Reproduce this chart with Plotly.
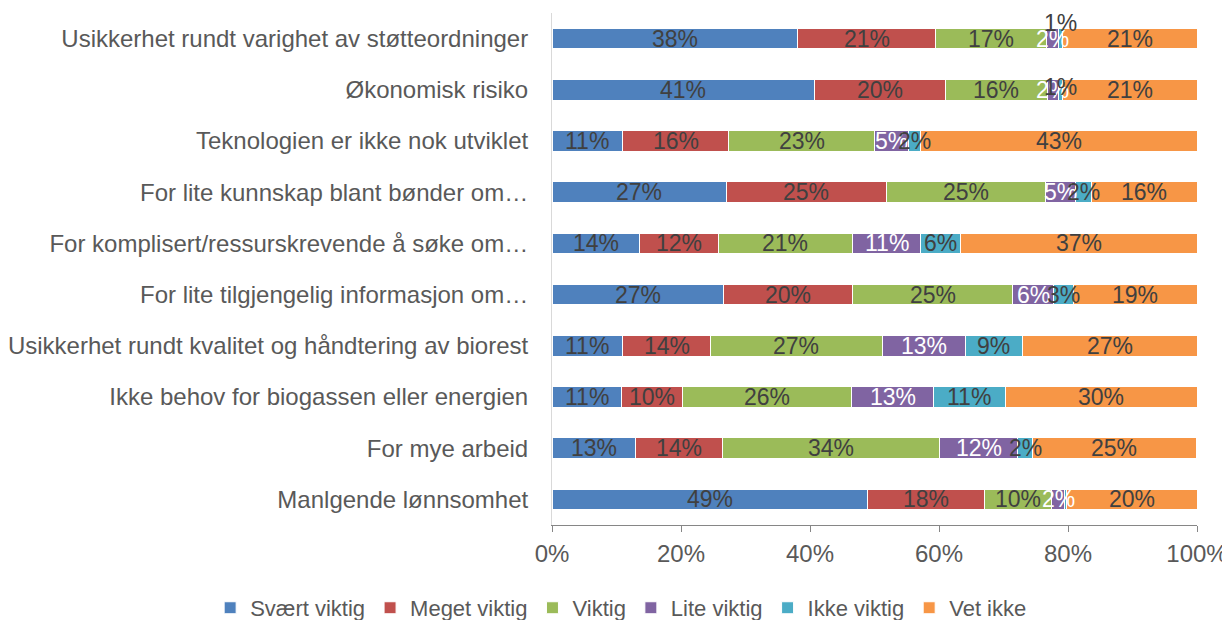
import plotly.graph_objects as go

categories = [
    "Usikkerhet rundt varighet av støtteordninger",
    "Økonomisk risiko",
    "Teknologien er ikke nok utviklet",
    "For lite kunnskap blant bønder om…",
    "For komplisert/ressurskrevende å søke om…",
    "For lite tilgjengelig informasjon om…",
    "Usikkerhet rundt kvalitet og håndtering av biorest",
    "Ikke behov for biogassen eller energien",
    "For mye arbeid",
    "Manlgende lønnsomhet",
]

series_names = ["Svært viktig", "Meget viktig", "Viktig", "Lite viktig", "Ikke viktig", "Vet ikke"]

svaert_viktig = [38.1, 40.7, 11.0, 27.0, 13.6, 26.6, 11.0, 10.7, 12.9, 48.9]
meget_viktig = [21.4, 20.3, 16.4, 24.8, 12.2, 20.0, 13.6, 9.6, 13.6, 18.1]
viktig = [17.2, 15.8, 22.6, 24.7, 20.8, 24.8, 26.6, 26.2, 33.6, 10.4]
lite_viktig = [1.8, 1.7, 5.3, 4.7, 10.6, 6.4, 12.9, 12.6, 12.1, 2.1]
ikke_viktig = [0.7, 0.6, 1.9, 2.5, 6.2, 3.1, 8.8, 11.2, 2.3, 0.2]
vet_ikke = [20.8, 20.9, 42.8, 16.3, 36.6, 19.1, 27.1, 29.7, 25.4, 20.3]

series_values = [svaert_viktig, meget_viktig, viktig, lite_viktig, ikke_viktig, vet_ikke]
colors = ["#4f81bd", "#c0504d", "#9bbb59", "#8064a2", "#4bacc6", "#f79646"]
label_colors = ["#404040", "#404040", "#404040", "#ffffff", "#404040", "#404040"]

FONT = "Liberation Sans, Arial, sans-serif"
FS = 24

fig = go.Figure()
for name, vals, col in zip(series_names, series_values, colors):
    fig.add_trace(go.Bar(
        y=categories, x=vals, name=name, orientation="h",
        marker=dict(color=col, line=dict(color="white", width=1)),
        hoverinfo="x+y+name",
    ))

# data labels as annotations at segment centers
for i, cat in enumerate(categories):
    cum = 0.0
    for s, vals in enumerate(series_values):
        v = vals[i]
        center = cum + v / 2
        cum += v
        lbl = round(v)
        if lbl <= 0:
            continue
        yshift = 0
        if s == 4 and i == 0:
            yshift = 16
        elif s == 4 and i == 1:
            yshift = 3
        fig.add_annotation(
            x=center, y=cat, xref="x", yref="y", text=f"{lbl}%",
            showarrow=False, yshift=yshift,
            font=dict(family=FONT, size=23, color=label_colors[s]),
        )

# page body has an 8px offset; figure is sized to compensate
fig.update_layout(
    barmode="stack",
    bargap=0.6,
    width=1222, height=612,
    margin=dict(l=544, r=33, t=5, b=95, autoexpand=False),
    paper_bgcolor="white", plot_bgcolor="white",
    font=dict(family=FONT, size=FS, color="#595959"),
    legend=dict(
        orientation="h", xref="paper", x=-0.530, xanchor="left",
        yref="paper", y=-0.162, yanchor="middle",
        font=dict(family=FONT, size=22, color="#595959"),
        traceorder="normal", itemwidth=30,
    ),
    showlegend=True,
)
fig.update_xaxes(
    range=[0, 100], tickvals=[0, 20, 40, 60, 80, 100],
    ticktext=["0%", "20%", "40%", "60%", "80%", "100%"],
    showgrid=False, zeroline=False, automargin=False,
    showline=True, linecolor="#868686", linewidth=1,
    ticks="outside", ticklen=6, tickcolor="#868686",
    ticklabelstandoff=1, ticklabeloverflow="allow",
    tickfont=dict(family=FONT, size=FS, color="#595959"),
)
fig.update_yaxes(
    autorange="reversed", showgrid=False, automargin=False,
    showline=True, linecolor="#d9d9d9", linewidth=1,
    ticks="", ticklabelstandoff=18, ticklabeloverflow="allow",
    tickfont=dict(family=FONT, size=FS, color="#595959"),
)

fig.write_html("out.html")
